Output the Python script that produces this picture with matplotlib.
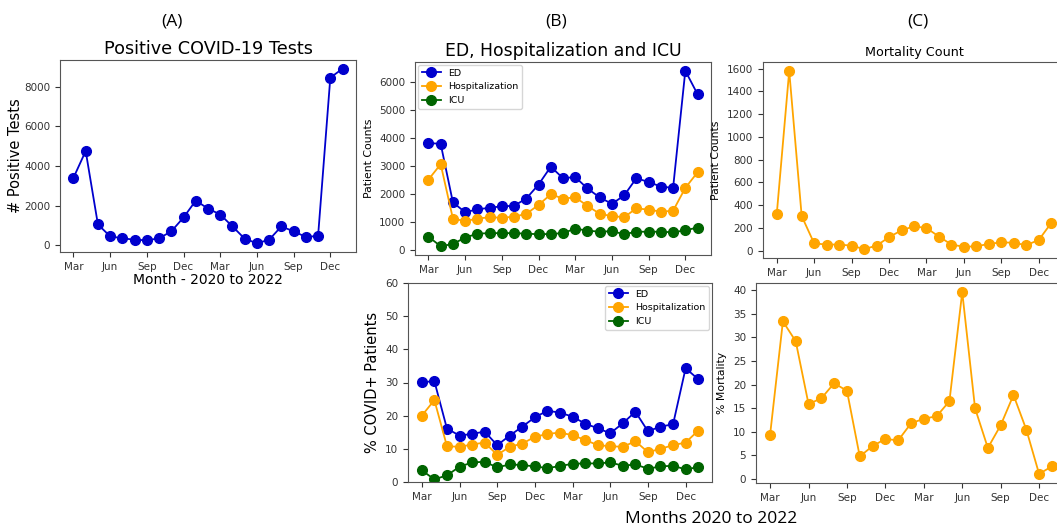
import matplotlib
matplotlib.use("Agg")
import matplotlib.pyplot as plt

# months Mar 2020 .. Jan 2022
months = ['Mar', 'Apr', 'May', 'Jun', 'Jul', 'Aug', 'Sep', 'Oct', 'Nov', 'Dec', 'Jan', 'Feb',
          'Mar', 'Apr', 'May', 'Jun', 'Jul', 'Aug', 'Sep', 'Oct', 'Nov', 'Dec', 'Jan']
tick_idx = [0, 3, 6, 9, 12, 15, 18, 21]

positive_tests = [3400, 4750, 1050, 450, 350, 280, 250, 350, 700, 1400, 2250, 1850,
                  1550, 950, 330, 100, 280, 950, 700, 420, 470, 8450, 8900]

ed_counts = [3830, 3800, 1700, 1350, 1450, 1510, 1560, 1580, 1840, 2340, 2980, 2570,
             2610, 2200, 1880, 1650, 1950, 2570, 2430, 2270, 2220, 6420, 5580]
hosp_counts = [2520, 3070, 1120, 1030, 1120, 1170, 1150, 1190, 1290, 1610, 1990, 1840,
               1880, 1580, 1290, 1210, 1170, 1490, 1440, 1370, 1400, 2220, 2780]
icu_counts = [470, 130, 210, 440, 580, 600, 600, 600, 580, 560, 570, 600,
              760, 690, 650, 670, 560, 650, 650, 650, 630, 700, 800]

ed_pct = [30.1, 30.4, 16.1, 14.0, 14.5, 15.2, 11.1, 14.0, 16.7, 19.5, 21.5, 20.9,
          19.7, 17.6, 16.2, 14.7, 17.7, 21.2, 15.3, 16.7, 17.4, 34.3, 31.0]
hosp_pct = [20.0, 24.7, 10.8, 10.6, 11.3, 11.9, 8.2, 10.6, 11.6, 13.6, 14.5, 14.9,
            14.1, 12.7, 11.1, 10.8, 10.6, 12.3, 9.0, 10.0, 11.1, 11.9, 15.5]
icu_pct = [3.5, 0.8, 2.0, 4.6, 5.9, 6.1, 4.4, 5.3, 5.1, 4.7, 4.2, 4.8,
           5.5, 5.6, 5.6, 5.9, 4.9, 5.3, 4.0, 4.7, 4.9, 3.8, 4.5]

mortality_count = [320, 1580, 305, 65, 55, 55, 45, 15, 45, 120, 180, 215,
                   200, 125, 55, 35, 40, 60, 75, 70, 50, 95, 245]
mortality_pct = [9.4, 33.4, 29.2, 15.9, 17.1, 20.3, 18.7, 4.8, 7.0, 8.5, 8.2, 11.8,
                 12.8, 13.3, 16.5, 39.6, 15.0, 6.6, 11.4, 17.8, 10.5, 1.1, 2.7]

BLUE = 'mediumblue'
ORANGE = 'orange'
GREEN = 'darkgreen'
W, H = 1057, 528
x = list(range(len(months)))
MS = 7


def box(l, t, r, b):
    return [l / W, 1 - b / H, (r - l) / W, (b - t) / H]


def fmt_axis(ax):
    ax.set_xticks(tick_idx)
    ax.set_xticklabels([months[i] for i in tick_idx])
    ax.tick_params(labelsize=7.5, colors='#333333')
    for s in ax.spines.values():
        s.set_color('#555555')


fig = plt.figure(figsize=(W / 100, H / 100), dpi=100)

# (A)
axA = fig.add_axes(box(60, 60, 356, 252))
axA.plot(x, positive_tests, 'o-', color=BLUE, markersize=MS, linewidth=1.3)
fmt_axis(axA)
axA.set_title('Positive COVID-19 Tests', fontsize=12.7, pad=4)
axA.set_ylabel('# Positive Tests', fontsize=10.5, labelpad=1)
axA.set_xlabel('Month - 2020 to 2022', fontsize=10, labelpad=1)

# (B) top
axB1 = fig.add_axes(box(415, 62, 711, 255))
axB1.plot(x, ed_counts, 'o-', color=BLUE, markersize=MS, linewidth=1.3, label='ED')
axB1.plot(x, hosp_counts, 'o-', color=ORANGE, markersize=MS, linewidth=1.3, label='Hospitalization')
axB1.plot(x, icu_counts, 'o-', color=GREEN, markersize=MS, linewidth=1.3, label='ICU')
fmt_axis(axB1)
axB1.set_title('ED, Hospitalization and ICU', fontsize=12.4, pad=4)
axB1.set_ylabel('Patient Counts', fontsize=7.8)
axB1.legend(loc='upper left', fontsize=6.8, borderaxespad=0.3)

# (B) bottom
axB2 = fig.add_axes(box(408, 283, 712, 482))
axB2.plot(x, ed_pct, 'o-', color=BLUE, markersize=MS, linewidth=1.3, label='ED')
axB2.plot(x, hosp_pct, 'o-', color=ORANGE, markersize=MS, linewidth=1.3, label='Hospitalization')
axB2.plot(x, icu_pct, 'o-', color=GREEN, markersize=MS, linewidth=1.3, label='ICU')
fmt_axis(axB2)
axB2.set_ylim(0, 60)
axB2.set_ylabel('% COVID+ Patients', fontsize=10.5)
axB2.legend(loc='upper right', fontsize=6.8, borderaxespad=0.3)

# (C) top
axC1 = fig.add_axes(box(763, 62, 1065, 258))
axC1.plot(x, mortality_count, 'o-', color=ORANGE, markersize=MS, linewidth=1.3)
fmt_axis(axC1)
axC1.set_title('Mortality Count', fontsize=9.2, pad=4)
axC1.set_ylabel('Patient Counts', fontsize=7.8)

# (C) bottom
axC2 = fig.add_axes(box(756, 283, 1066, 483))
axC2.plot(x, mortality_pct, 'o-', color=ORANGE, markersize=MS, linewidth=1.3)
fmt_axis(axC2)
axC2.set_ylabel('% Mortality', fontsize=7.8)

lab_font = ['Open Sans', 'DejaVu Sans']
fig.text(172 / W, 1 - 22 / H, '(A)', ha='center', va='center', fontsize=12.5, family=lab_font)
fig.text(556 / W, 1 - 22 / H, '(B)', ha='center', va='center', fontsize=12.5, family=lab_font)
fig.text(918 / W, 1 - 22 / H, '(C)', ha='center', va='center', fontsize=12.5, family=lab_font)
fig.text(711 / W, 1 - 519 / H, 'Months 2020 to 2022', ha='center', va='center', fontsize=12.5, family=lab_font)

fig.savefig('out.png', dpi=100)
